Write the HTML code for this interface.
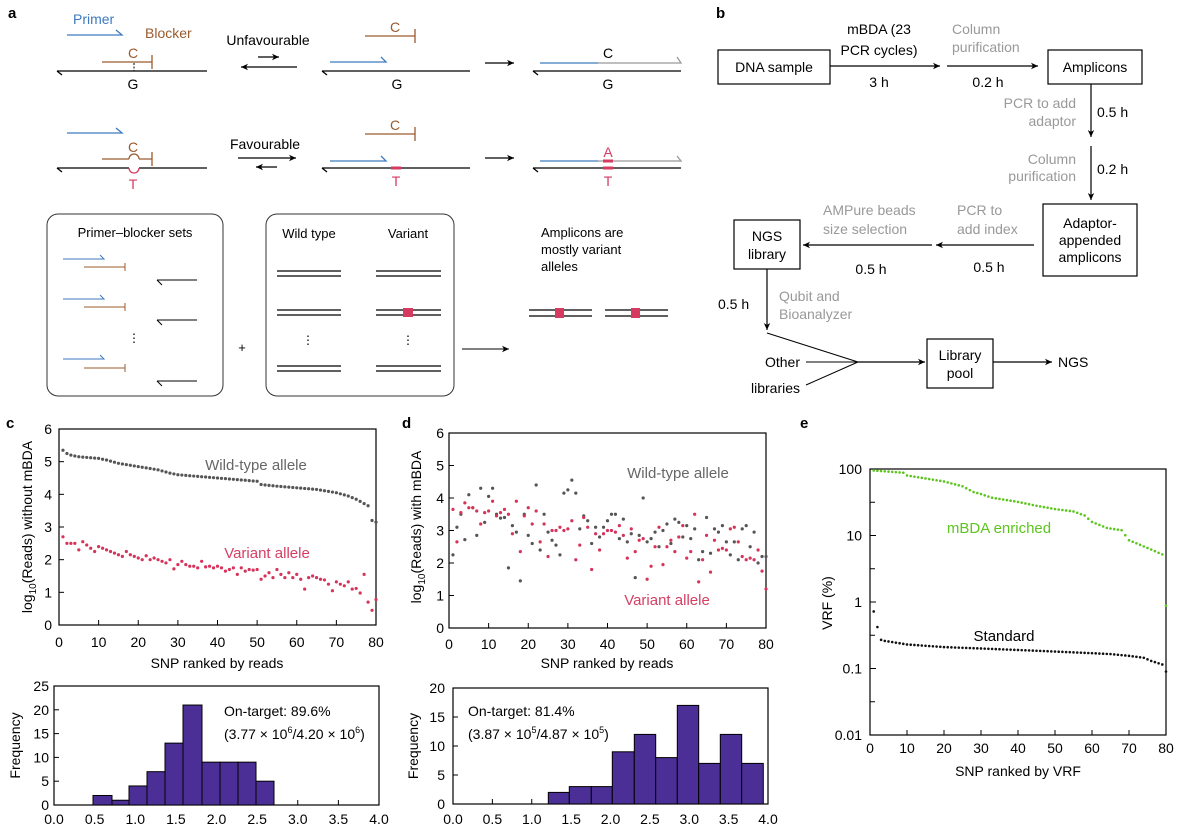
<!DOCTYPE html>
<html><head><meta charset="utf-8"><style>
html,body{margin:0;padding:0;background:#fff}
svg{display:block;font-family:"Liberation Sans",Arial,sans-serif}
</style></head><body>
<svg id="s" width="1185" height="827" viewBox="0 0 1185 827" xmlns="http://www.w3.org/2000/svg">
<defs>
<marker id="ah" markerWidth="8" markerHeight="8" refX="7" refY="4" orient="auto" markerUnits="userSpaceOnUse"><path d="M0,0.8 L7,4 L0,7.2 L2,4z" fill="#000"/></marker>
</defs>
<g font-weight="bold" font-size="15">
<text x="8" y="18">a</text><text x="716" y="18">b</text><text x="6" y="428">c</text><text x="402" y="428">d</text><text x="800" y="428">e</text>
</g>

<!-- Panel a -->
<g fill="none" stroke-width="1.3">
<text x="73" y="24" fill="#3d7ac0" stroke="none" font-size="14">Primer</text>
<text x="145" y="38" fill="#9a5b2e" stroke="none" font-size="14">Blocker</text>
<path d="M67,35 H122 L116,30" stroke="#3d7ac0"/>
<!-- row1 left -->
<path d="M57,71 H207 M57,71 L62,75" stroke="#000"/>
<path d="M102,62 H152 M152,55 V69" stroke="#9a5b2e"/>
<path d="M134,63 V71" stroke="#000" stroke-dasharray="2,1.5" stroke-width="1"/>
<text x="133" y="58" fill="#9a5b2e" stroke="none" font-size="14" text-anchor="middle">C</text>
<text x="133" y="89" fill="#000" stroke="none" font-size="14" text-anchor="middle">G</text>
<text x="268" y="45" fill="#000" stroke="none" font-size="14" text-anchor="middle">Unfavourable</text>
<path d="M258,57 H279" stroke="#000" marker-end="url(#ah)"/>
<path d="M297,67 H241" stroke="#000" marker-end="url(#ah)"/>
<!-- row1 middle -->
<path d="M365,36 H415 M415,29 V43" stroke="#9a5b2e"/>
<text x="395" y="32" fill="#9a5b2e" stroke="none" font-size="14" text-anchor="middle">C</text>
<path d="M330,62 H386 L381,57" stroke="#3d7ac0"/>
<path d="M322,71 H470 M322,71 L327,75" stroke="#000"/>
<text x="397" y="89" fill="#000" stroke="none" font-size="14" text-anchor="middle">G</text>
<path d="M485,63 H514" stroke="#000" marker-end="url(#ah)"/>
<!-- row1 right -->
<path d="M540,63 H598" stroke="#3d7ac0"/><path d="M598,63 H681 L677,57" stroke="#999"/>
<path d="M533,71 H681 M533,71 L538,75" stroke="#000"/>
<text x="608" y="58" fill="#000" stroke="none" font-size="14" text-anchor="middle">C</text>
<text x="608" y="89" fill="#000" stroke="none" font-size="14" text-anchor="middle">G</text>
<!-- row2 left -->
<path d="M67,133 H122 L116,128" stroke="#3d7ac0"/>
<text x="133" y="152" fill="#9a5b2e" stroke="none" font-size="14" text-anchor="middle">C</text>
<path d="M102,159 H129 M139,159 H152 M152,152 V166" stroke="#9a5b2e"/>
<path d="M129,159 A5,5 0 0 1 139,159" stroke="#9a5b2e"/>
<path d="M57,168 H129 M139,168 H207 M57,168 L62,172" stroke="#000"/>
<path d="M129,168 A5,5 0 0 0 139,168" stroke="#d63a60"/>
<text x="133" y="189" fill="#d63a60" stroke="none" font-size="14" text-anchor="middle">T</text>
<text x="265" y="149" fill="#000" stroke="none" font-size="14" text-anchor="middle">Favourable</text>
<path d="M238,158 H296" stroke="#000" marker-end="url(#ah)"/>
<path d="M277,167 H256" stroke="#000" marker-end="url(#ah)"/>
<!-- row2 middle -->
<path d="M365,134 H415 M415,127 V141" stroke="#9a5b2e"/>
<text x="395" y="130" fill="#9a5b2e" stroke="none" font-size="14" text-anchor="middle">C</text>
<path d="M330,161 H386 L381,156" stroke="#3d7ac0"/>
<path d="M322,168 H470 M322,168 L327,172" stroke="#000"/>
<path d="M391,168 H401" stroke="#d63a60" stroke-width="3"/>
<text x="396" y="186" fill="#d63a60" stroke="none" font-size="14" text-anchor="middle">T</text>
<path d="M485,158 H514" stroke="#000" marker-end="url(#ah)"/>
<!-- row2 right -->
<path d="M540,161 H598" stroke="#3d7ac0"/><path d="M598,161 H681 L677,156" stroke="#999"/>
<path d="M533,168 H681 M533,168 L538,172" stroke="#000"/>
<path d="M603,161 H613 M603,168 H613" stroke="#d63a60" stroke-width="3"/>
<text x="608" y="157" fill="#d63a60" stroke="none" font-size="14" text-anchor="middle">A</text>
<text x="608" y="186" fill="#d63a60" stroke="none" font-size="14" text-anchor="middle">T</text>
<!-- boxes -->
<rect x="47" y="214" width="176" height="182" rx="11" stroke="#333" stroke-width="1"/>
<rect x="266" y="214" width="188" height="182" rx="11" stroke="#333" stroke-width="1"/>
<text x="135" y="237" fill="#000" stroke="none" font-size="13" text-anchor="middle">Primer–blocker sets</text>
<g stroke-width="1">
<path d="M63,259 H104 L100,255 M63,299 H104 L100,295 M63,359 H104 L100,355" stroke="#3d7ac0"/>
<path d="M84,267 H125 M125,263 V271 M84,307 H125 M125,303 V311 M84,368 H125 M125,364 V372" stroke="#9a5b2e"/>
<path d="M157,280 H197 M157,280 L162,285 M157,320 H197 M157,320 L162,325 M157,381 H197 M157,381 L162,386" stroke="#000"/>
</g>
<text x="134" y="342" fill="#000" stroke="none" font-size="12" text-anchor="middle">⋮</text>
<text x="242" y="352" fill="#000" stroke="none" font-size="13" text-anchor="middle">+</text>
<text x="309" y="238" fill="#000" stroke="none" font-size="13" text-anchor="middle">Wild type</text>
<text x="408" y="238" fill="#000" stroke="none" font-size="13" text-anchor="middle">Variant</text>
<path d="M277,271 H341 M277,276 H341 M277,310 H341 M277,315 H341 M277,366 H341 M277,371 H341 M376,271 H441 M376,276 H441 M376,310 H441 M376,315 H441 M376,366 H441 M376,371 H441" stroke="#000" stroke-width="1.2"/>
<text x="308" y="344" fill="#000" stroke="none" font-size="12" text-anchor="middle">⋮</text>
<text x="408" y="344" fill="#000" stroke="none" font-size="12" text-anchor="middle">⋮</text>
<rect x="403" y="308" width="10" height="9" fill="#d63a60" stroke="none"/>
<path d="M462,349 H509" stroke="#000" stroke-width="1" marker-end="url(#ah)"/>
<text x="541" y="237" fill="#000" stroke="none" font-size="13">Amplicons are</text>
<text x="541" y="254" fill="#000" stroke="none" font-size="13">mostly variant</text>
<text x="541" y="271" fill="#000" stroke="none" font-size="13">alleles</text>
<path d="M529,310 H592 M529,316 H592 M605,310 H668 M605,316 H668" stroke="#000" stroke-width="1.2"/>
<rect x="555" y="308" width="9" height="10" fill="#d63a60" stroke="none"/>
<rect x="631" y="308" width="9" height="10" fill="#d63a60" stroke="none"/>
</g>

<!-- Panel b -->
<g font-size="14" fill="#000">
<g fill="none" stroke="#000" stroke-width="1.2">
<rect x="718" y="50" width="112" height="34"/>
<rect x="1048" y="50" width="94" height="34"/>
<rect x="1043" y="204" width="94" height="72"/>
<rect x="734" y="220" width="66" height="49"/>
<rect x="927" y="339" width="66" height="49"/>
<path d="M830,66 H940" marker-end="url(#ah)"/>
<path d="M947,66 H1038" marker-end="url(#ah)"/>
<path d="M1091,84 V137" marker-end="url(#ah)"/>
<path d="M1091,146 V200" marker-end="url(#ah)"/>
<path d="M1034,245 H936" marker-end="url(#ah)"/>
<path d="M932,245 H803" marker-end="url(#ah)"/>
<path d="M767,269 V330" marker-end="url(#ah)"/>
<path d="M767,333 L858,362 M806,362 H858 M806,385 L858,362" stroke-width="1"/>
<path d="M858,362 H925" marker-end="url(#ah)"/>
<path d="M993,362 H1052" marker-end="url(#ah)"/>
</g>
<g text-anchor="middle">
<text x="774" y="72">DNA sample</text>
<text x="879" y="34">mBDA (23</text><text x="879" y="55">PCR cycles)</text>
<text x="879" y="87">3 h</text><text x="988" y="87">0.2 h</text>
<text x="1095" y="72">Amplicons</text>
<text x="1090" y="228">Adaptor-</text><text x="1090" y="245">appended</text><text x="1090" y="262">amplicons</text>
<text x="989" y="272">0.5 h</text><text x="871" y="274">0.5 h</text>
<text x="767" y="241">NGS</text><text x="767" y="259">library</text>
<text x="960" y="360">Library</text><text x="960" y="378">pool</text>
</g>
<text x="1097" y="117">0.5 h</text><text x="1097" y="174">0.2 h</text>
<text x="718" y="309">0.5 h</text>
<text x="1058" y="367">NGS</text>
<g text-anchor="end"><text x="800" y="367">Other</text><text x="800" y="393">libraries</text></g>
<g fill="#999">
<text x="952" y="34">Column</text><text x="952" y="52">purification</text>
<g text-anchor="end"><text x="1076" y="108">PCR to add</text><text x="1076" y="126">adaptor</text>
<text x="1076" y="164">Column</text><text x="1076" y="181">purification</text></g>
<text x="957" y="215">PCR to</text><text x="957" y="234">add index</text>
<text x="823" y="215">AMPure beads</text><text x="823" y="234">size selection</text>
<text x="779" y="301">Qubit and</text><text x="779" y="319">Bioanalyzer</text>
</g>
</g>
<g id="charts"></g>
</svg>
<script>
const NS="http://www.w3.org/2000/svg",G=document.getElementById("charts");
function el(t,a,txt){const e=document.createElementNS(NS,t);for(const k in a)e.setAttribute(k,a[k]);if(txt!=null)e.textContent=txt;G.appendChild(e);return e;}
function txt(x,y,s,o){o=o||{};return el("text",Object.assign({x:x,y:y,"font-size":14,fill:"#000"},o),s);}
function interp(pts,n){const r=[];for(let i=1;i<=n;i++){for(let j=0;j<pts.length-1;j++){if(i>=pts[j][0]&&i<=pts[j+1][0]){const t=(i-pts[j][0])/(pts[j+1][0]-pts[j][0]);r.push(pts[j][1]+t*(pts[j+1][1]-pts[j][1]));break;}}}return r;}
function dots(arr,fx,fy,col,r){arr.forEach((v,i)=>el("circle",{cx:fx(i+1),cy:fy(v),r:r||1.6,fill:col}));}
function frame(x0,y0,x1,y1){el("rect",{x:x0,y:y0,width:x1-x0,height:y1-y0,fill:"none",stroke:"#000","stroke-width":1.2});}
// Panel c
(function(){const x0=59,x1=376,y0=429,y1=625;const fx=v=>x0+v*(x1-x0)/80,fy=v=>y1-v*(y1-y0)/6;
frame(x0,y0,x1,y1);
for(let i=0;i<=6;i++){el("line",{x1:x0,x2:x0+5,y1:fy(i),y2:fy(i),stroke:"#000"});txt(52,fy(i)+5,i,{"text-anchor":"end"});}
for(let i=0;i<=80;i+=10){el("line",{x1:fx(i),x2:fx(i),y1:y1,y2:y1-5,stroke:"#000"});txt(fx(i),647,i,{"text-anchor":"middle"});}
txt(217,668,"SNP ranked by reads",{"text-anchor":"middle"});
const t=txt(0,0,"",{transform:"translate(32,527) rotate(-90)","text-anchor":"middle"});t.innerHTML='log<tspan font-size="10" dy="4">10</tspan><tspan dy="-4">(Reads) without mBDA</tspan>';
const wt=interp([[1,5.35],[2,5.25],[3,5.2],[5,5.15],[10,5.1],[12,5.05],[15,4.95],[20,4.85],[25,4.75],[28,4.65],[30,4.6],[35,4.55],[40,4.5],[45,4.45],[50,4.4],[51,4.3],[55,4.25],[60,4.2],[65,4.15],[70,4.05],[73,3.95],[75,3.85],[78,3.65],[79,3.2],[80,3.15]],80);
dots(wt,fx,fy,"#555");
const va=[2.7,2.5,2.5,2.5,2.3,2.55,2.45,2.35,2.25,2.4,2.35,2.3,2.25,2.2,2.15,2.1,2.25,2.15,2.1,2.05,2.0,2.12,2.0,2.05,2.0,1.95,1.9,2.0,1.72,1.85,1.95,1.85,1.8,1.8,1.75,1.95,1.78,1.8,1.75,1.8,1.75,1.65,1.7,1.75,1.55,1.75,1.65,1.7,1.68,1.7,1.4,1.5,1.6,1.45,1.7,1.55,1.45,1.6,1.45,1.55,1.4,1.1,1.45,1.5,1.45,1.4,1.38,1.25,1.05,1.32,1.25,1.2,1.32,1.1,1.12,0.98,1.55,0.7,0.45,0.78];
dots(va,fx,fy,"#d6335a");
txt(256,470,"Wild-type allele",{"font-size":15,fill:"#666","text-anchor":"middle"});
txt(267,558,"Variant allele",{"font-size":15,fill:"#d43f63","text-anchor":"middle"});
})();
// Panel d
(function(){const x0=449,x1=766,y0=433,y1=628;const fx=v=>x0+v*(x1-x0)/80,fy=v=>y1-v*(y1-y0)/6;
frame(x0,y0,x1,y1);
for(let i=0;i<=6;i++){el("line",{x1:x0,x2:x0+5,y1:fy(i),y2:fy(i),stroke:"#000"});txt(444,fy(i)+5,i,{"text-anchor":"end"});}
for(let i=0;i<=80;i+=10){el("line",{x1:fx(i),x2:fx(i),y1:y1,y2:y1-5,stroke:"#000"});txt(fx(i),649,i,{"text-anchor":"middle"});}
txt(607,668,"SNP ranked by reads",{"text-anchor":"middle"});
const t=txt(0,0,"",{transform:"translate(421,527) rotate(-90)","text-anchor":"middle"});t.innerHTML='log<tspan font-size="10" dy="4">10</tspan><tspan dy="-4">(Reads) with mBDA</tspan>';
const g=[2.25,3.1,3.5,2.72,4.1,3.7,2.85,4.3,3.25,4.05,4.3,3.5,3.38,3.4,1.85,3.15,2.95,1.45,3.5,2.85,2.6,4.4,2.4,3.5,2.95,2.7,2.55,2.25,4.15,4.25,4.55,4.15,3.05,3.45,3.3,2.6,3.1,2.8,3.1,3.3,3.5,3.5,2.75,3.35,2.65,2.9,1.55,2.85,4.0,2.65,2.75,2.95,2.5,3.0,3.2,2.6,3.35,3.25,2.8,3.15,2.75,3.05,2.1,2.35,3.4,2.3,3.05,2.95,3.15,2.65,2.25,2.65,2.1,3.05,3.15,2.5,2.95,2.0,2.2,2.2];
const r=[3.65,2.65,3.55,3.85,3.7,3.7,3.6,3.2,3.55,3.6,3.9,3.45,3.55,3.65,3.5,2.9,3.9,2.35,3.45,3.7,3.2,3.6,2.65,3.2,2.2,3.0,3.0,3.1,3.0,3.05,3.3,2.1,2.55,3.4,3.1,1.8,2.9,2.4,2.9,3.0,3.0,2.95,3.15,2.85,2.15,3.05,2.35,2.7,2.75,1.5,1.9,2.5,3.1,1.95,2.5,2.7,2.35,2.8,3.15,2.15,2.35,3.5,1.42,2.1,2.85,1.72,2.7,2.4,2.45,2.4,3.05,3.1,2.65,2.2,2.1,2.15,2.1,2.4,1.75,1.2];
dots(g,fx,fy,"#555");dots(r,fx,fy,"#d6335a");
txt(678,478,"Wild-type allele",{"font-size":15,fill:"#666","text-anchor":"middle"});
txt(667,605,"Variant allele",{"font-size":15,fill:"#d43f63","text-anchor":"middle"});
})();
// histograms
function hist(x0,x1,y0,y1,ymax,ystep,edges,counts,labx,frx,note,notex){
frame(x0,y0,x1,y1);const fy=v=>y1-v*(y1-y0)/ymax;
for(let v=0;v<=ymax;v+=ystep){el("line",{x1:x0,x2:x0+5,y1:fy(v),y2:fy(v),stroke:"#000"});txt(labx,fy(v)+5,v,{"text-anchor":"end"});}
const tx0=x0,tx1=x1;for(let i=0;i<=8;i++){const x=tx0+i*(tx1-tx0)/8;el("line",{x1:x,x2:x,y1:y1,y2:y1-5,stroke:"#000"});txt(x,824,(i/2).toFixed(1),{"text-anchor":"middle"});}
counts.forEach((c,i)=>{el("rect",{x:edges[i],y:fy(c),width:edges[i+1]-edges[i],height:y1-fy(c),fill:"#4b2f96",stroke:"#000","stroke-width":1});});
txt(0,0,"Frequency",{transform:"translate("+frx+","+((y0+y1)/2)+") rotate(-90)","text-anchor":"middle"});
const a=txt(notex,716,note[0]);const b=txt(notex,739,"");b.innerHTML=note[1];
}
hist(54,379,686,805,25,5,[93,112,129,147,165,183,202,220,238,256,274],[2,1,4,7,13,21,9,9,9,5],49,20,["On-target: 89.6%",'(3.77 × 10<tspan font-size="9" dy="-6">6</tspan><tspan dy="6">/4.20 × 10</tspan><tspan font-size="9" dy="-6">6</tspan><tspan dy="6">)</tspan>'],224);
hist(453,768,688,804,20,5,[548.3,569.3,591.3,612.3,634.3,655.7,677.3,698.7,720.3,741.7,763.3],[2,3,3,9,12,8,17,7,12,7],445,418,["On-target: 81.4%",'(3.87 × 10<tspan font-size="9" dy="-6">5</tspan><tspan dy="6">/4.87 × 10</tspan><tspan font-size="9" dy="-6">5</tspan><tspan dy="6">)</tspan>'],468);
// Panel e
(function(){const x0=870,x1=1166,y0=469,y1=735;const fx=v=>x0+v*(x1-x0)/80,fy=v=>y1-(Math.log10(v)+2)*(y1-y0)/4;
frame(x0,y0,x1,y1);
["0.01","0.1","1","10","100"].forEach((s,i)=>{const y=y1-i*(y1-y0)/4;el("line",{x1:x0,x2:x0+6,y1:y,y2:y,stroke:"#000"});txt(862,y+5,s,{"text-anchor":"end"});if(i<4){const ym=y-(y1-y0)/8;el("line",{x1:x0,x2:x0+5,y1:ym,y2:ym,stroke:"#000"});}});
for(let i=0;i<=80;i+=10){el("line",{x1:fx(i),x2:fx(i),y1:y1,y2:y1-5,stroke:"#000"});txt(fx(i),753,i,{"text-anchor":"middle"});}
txt(1018,776,"SNP ranked by VRF",{"text-anchor":"middle"});
txt(0,0,"VRF (%)",{transform:"translate(832,603) rotate(-90)","text-anchor":"middle"});
const lg=p=>p.map(a=>[a[0],Math.log10(a[1])]);
let gr=interp(lg([[1,95],[9,88],[10,80],[20,65],[25,55],[28,45],[30,42],[33,37],[40,32],[45,28],[50,25],[55,23],[58,20],[60,16],[64,13],[68,12],[70,8.5],[75,6.5],[79,5.2],[80,5.1]]),79).map(v=>Math.pow(10,v));
gr.push(0.88);
dots(gr,fx,fy,"#5cc51e",1.3);
let bk=interp(lg([[1,0.72],[2,0.42],[3,0.27],[4,0.26],[8,0.24],[10,0.23],[20,0.21],[30,0.2],[40,0.19],[50,0.18],[60,0.17],[65,0.165],[70,0.155],[74,0.145],[76,0.13],[79,0.115],[80,0.09]]),80).map(v=>Math.pow(10,v));
dots(bk,fx,fy,"#111",1.3);
txt(999,533,"mBDA enriched",{"font-size":15,fill:"#5cc51e","text-anchor":"middle"});
txt(1004,641,"Standard",{"font-size":15,"text-anchor":"middle"});
})();
</script>
</body></html>
